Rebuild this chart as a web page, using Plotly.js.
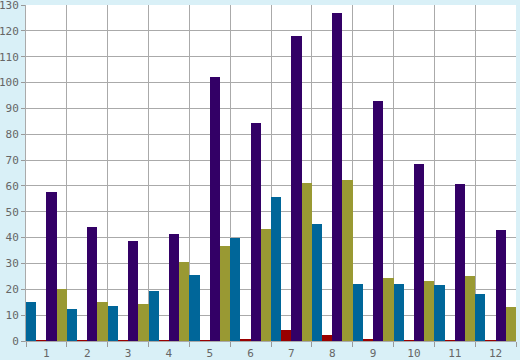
<!DOCTYPE html>
<html><head><meta charset="utf-8">
<script src="https://cdn.plot.ly/plotly-3.0.1.min.js"></script>
<style>html,body{margin:0;padding:0;background:#d9f0f7;}#c{width:520px;height:360px;}</style>
</head><body><div id="c"></div>
<script>
const categories = ['1','2','3','4','5','6','7','8','9','10','11','12'];
const seriesBlue   = [15, 12.4, 13.5, 19.3, 25.5, 39.8, 55.7, 45.3, 22, 22, 21.6, 18.1];
const seriesRed    = [0.3, 0.3, 0.3, 0.3, 0.3, 0.9, 4.3, 2.4, 0.9, 0.3, 0.3, 0.3];
const seriesPurple = [57.6, 44.1, 38.7, 41.4, 102.2, 84.2, 118.2, 126.8, 92.9, 68.5, 60.8, 43];
const seriesOlive  = [20, 15, 14.3, 30.5, 36.7, 43.3, 61.1, 62.3, 24.4, 23.2, 25.1, 13.1];
const yTicks = [0,10,20,30,40,50,60,70,80,90,100,110,120,130];

const mk = (y, color) => ({type:'bar', x:categories, y:y, marker:{color:color, line:{width:0}}, hoverinfo:'none'});
const data = [
  mk(seriesBlue,'#006699'),
  mk(seriesRed,'#990000'),
  mk(seriesPurple,'#330066'),
  mk(seriesOlive,'#999933')
];
const font = {family:'DejaVu Sans Mono, monospace', size:11, color:'#666666'};
const layout = {
  width:520, height:360,
  margin:{l:26, r:4, t:5, b:19, pad:0},
  paper_bgcolor:'#d9f0f7', plot_bgcolor:'#ffffff',
  barmode:'group', bargap:0, bargroupgap:0,
  showlegend:false,
  font:font,
  xaxis:{type:'category', range:[-0.5,11.5], tickson:'boundaries', ticks:'outside', ticklen:5, tickcolor:'#999999',
         showgrid:true, gridcolor:'#aaaaaa', gridwidth:1, showline:true, linecolor:'#aaaaaa', linewidth:1,
         tickfont:font, fixedrange:true, mirror:false, ticklabelstandoff:2},
  yaxis:{range:[0,130], tickmode:'array', tickvals:yTicks, ticktext:yTicks.map(String), ticks:'outside', ticklen:4, tickcolor:'#999999',
         showgrid:true, gridcolor:'#aaaaaa', gridwidth:1, showline:true, linecolor:'#aaaaaa', linewidth:1,
         zeroline:false, tickfont:font, fixedrange:true, ticklabeloverflow:'allow'}
};
Plotly.newPlot('c', data, layout, {displayModeBar:false, staticPlot:true});
</script></body></html>
